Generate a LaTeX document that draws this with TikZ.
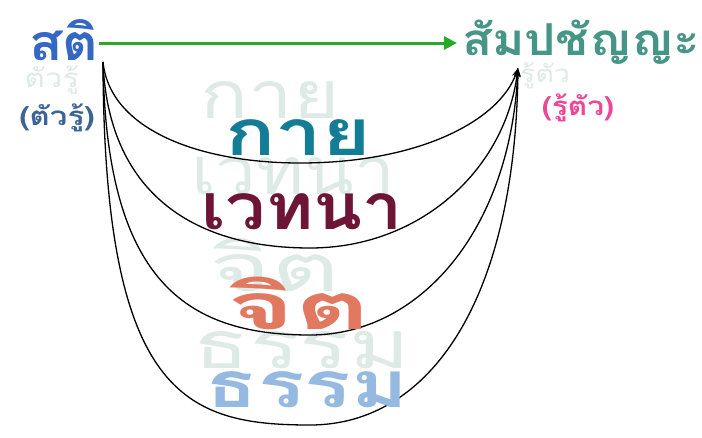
\documentclass[tikz,border=0pt]{standalone}
\usepackage{fontspec}
\setmainfont[Script=Thai]{Loma}
\usepackage{tikz}
\usetikzlibrary{arrows.meta}

\definecolor{satiblue}{RGB}{52,104,196}
\definecolor{rootblue}{RGB}{60,100,150}
\definecolor{samteal}{RGB}{70,150,135}
\definecolor{rupink}{RGB}{238,70,150}
\definecolor{kayteal}{RGB}{20,125,150}
\definecolor{wetmaroon}{RGB}{110,20,55}
\definecolor{jitorange}{RGB}{225,120,95}
\definecolor{thamblue}{RGB}{150,185,225}
\definecolor{ghostgray}{RGB}{222,234,229}
\definecolor{arrowgreen}{RGB}{40,170,40}

\tikzset{
  word/.style 2 args={inner sep=0pt,
    font=\bfseries\fontsize{#1}{#1}\selectfont\addfontfeature{FakeStretch=#2}},
  ghost/.style 2 args={inner sep=0pt, text=ghostgray,
    font=\fontsize{#1}{#1}\selectfont\addfontfeature{FakeStretch=#2}},
  path arc/.style={black, line width=1.3pt, -{Stealth[length=9pt,width=6pt]}}
}

\begin{document}
\begin{tikzpicture}[x=1pt,y=-1pt]
  \useasboundingbox (0,0) rectangle (702,437);
  % faint echoes behind the words
  \node[ghost={26}{1.2}] (gsati) at (52,80) {ตัวรู้};
  \node[ghost={24}{1.2}] (gsam) at (545,76) {รู้ตัว};
  \node[ghost={66}{1.2}] (gkay) at (270,100) {กาย};
  \node[ghost={66}{1.1}] (gwet) at (293,176) {เวทนา};
  \node[ghost={66}{1.6}] (gjit) at (275,265) {จิต};
  \node[ghost={66}{1.4}] (gtham) at (302,350) {ธรรม};
  % the two ends
  \node[word={50}{1.1}, text=satiblue] (sati) at (64,40) {สติ};
  \node[word={26}{1.2}, text=rootblue] (satisub) at (57,118) {(ตัวรู้)};
  \node[word={44}{1.12}, text=samteal] (sam) at (581,42) {สัมปชัญญะ};
  \node[word={26}{1.15}, text=rupink] (samsub) at (578,108) {(รู้ตัว)};
  \coordinate (src) at (103,62);
  \coordinate (dst) at (518,68);
  \coordinate (gtip) at (457,43);
  \draw[arrowgreen, line width=3pt, -{Triangle[length=13pt,width=13pt]}]
    (sati.east |- gtip) -- (gtip);
  % four paths
  \draw[path arc] (src) .. controls (110,130) and (200,163) .. (300,163)
                        .. controls (420,163) and (500,120) .. (dst);
  \draw[path arc] (src) .. controls (108,190) and (190,248) .. (310,248)
                        .. controls (420,248) and (505,170) .. (dst);
  \draw[path arc] (src) .. controls (106,280) and (185,335) .. (310,335)
                        .. controls (420,335) and (510,230) .. (dst);
  \draw[path arc] (src) .. controls (104,395) and (185,425) .. (310,425)
                        .. controls (430,425) and (515,300) .. (dst);
  % the four bases
  \node[word={64}{1.3}, text=kayteal] (kay) at (298,138) {กาย};
  \node[word={64}{1.12}, text=wetmaroon] (wet) at (302,212) {เวทนา};
  \node[word={64}{1.8}, text=jitorange] (jit) at (299,303) {จิต};
  \node[word={64}{1.35}, text=thamblue] (tham) at (307,390) {ธรรม};
\end{tikzpicture}
\end{document}
